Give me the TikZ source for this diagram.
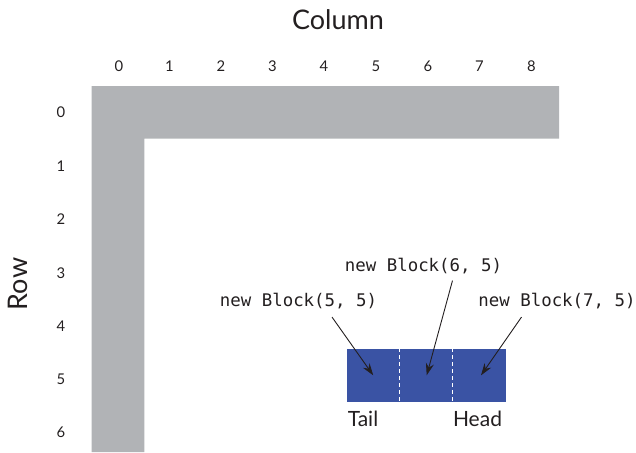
\documentclass[tikz,border=0pt]{standalone}
\usepackage{fontspec}
\setmainfont{Lato}
\setmonofont{DejaVu Sans Mono}
\usetikzlibrary{arrows.meta}
\definecolor{wallgray}{HTML}{B1B3B6}
\definecolor{blockblue}{HTML}{3A53A4}
\definecolor{txt}{HTML}{231F20}
\begin{document}
\begin{tikzpicture}[x=1pt,y=-1pt,
  num/.style={font=\fontsize{14.8}{15}\selectfont, text=txt, inner sep=0pt},
  title/.style={font=\fontsize{27}{28}\selectfont, text=txt, inner sep=0pt},
  code/.style={font=\ttfamily\fontsize{17.4}{18}\selectfont, text=txt, inner sep=0pt},
  endlabel/.style={font=\fontsize{21}{22}\selectfont, text=txt, inner sep=0pt},
  cell/.style={fill=blockblue, minimum width=53pt, minimum height=53.3pt, inner sep=0pt, draw=none},
  arr/.style={draw=txt, line width=0.9pt, -{Stealth[length=12pt,width=8pt]}},
  sep/.style={draw=white, line width=0.9pt, dash pattern=on 4pt off 3pt}
]
\useasboundingbox (0,0) rectangle (636,452);
% gray wall
\fill[wallgray] (91.7,86) -- (559,86) -- (559,138.5) -- (144.3,138.5) -- (144.3,452) -- (91.7,452) -- cycle;
% titles
\node[title] (coltitle) at (338,19.5) {Column};
\node[title, rotate=90] (rowtitle) at (18,284) {Row};
% column numbers
\foreach \i/\x in {0/119,1/169.4,2/221,3/272.5,4/324,5/376,6/428,7/479.5,8/531.5}
  \node[num] (col\i) at (\x,66) {\i};
% row numbers
\foreach \j/\y in {0/112.5,1/166,2/219.3,3/272.7,4/326,5/379,6/432}
  \node[num] (row\j) at (61,\y) {\j};
% blocks
\node[cell] (c5) at (373.2,375.3) {};
\node[cell] (c6) at (426.2,375.3) {};
\node[cell] (c7) at (479.2,375.3) {};
\draw[sep] (c5.north east) -- (c5.south east);
\draw[sep] (c6.north east) -- (c6.south east);
% labels
\node[code] (l6) at (423.5,266.5) {new Block(6, 5)};
\node[code] (l5) at (298.5,301) {new Block(5, 5)};
\node[code] (l7) at (557,301) {new Block(7, 5)};
\node[endlabel] (tail) at (363,418.5) {Tail};
\node[endlabel] (head) at (477.5,418.5) {Head};
% arrows
\draw[arr] ([xshift=33.5pt,yshift=-8pt]l5.south) -- (c5.center);
\draw[arr] ([xshift=29pt,yshift=-6pt]l6.south) -- ([xshift=0.5pt]c6.center);
\draw[arr] ([xshift=-35.5pt,yshift=-8pt]l7.south) -- ([xshift=1.8pt]c7.center);
\end{tikzpicture}
\end{document}
